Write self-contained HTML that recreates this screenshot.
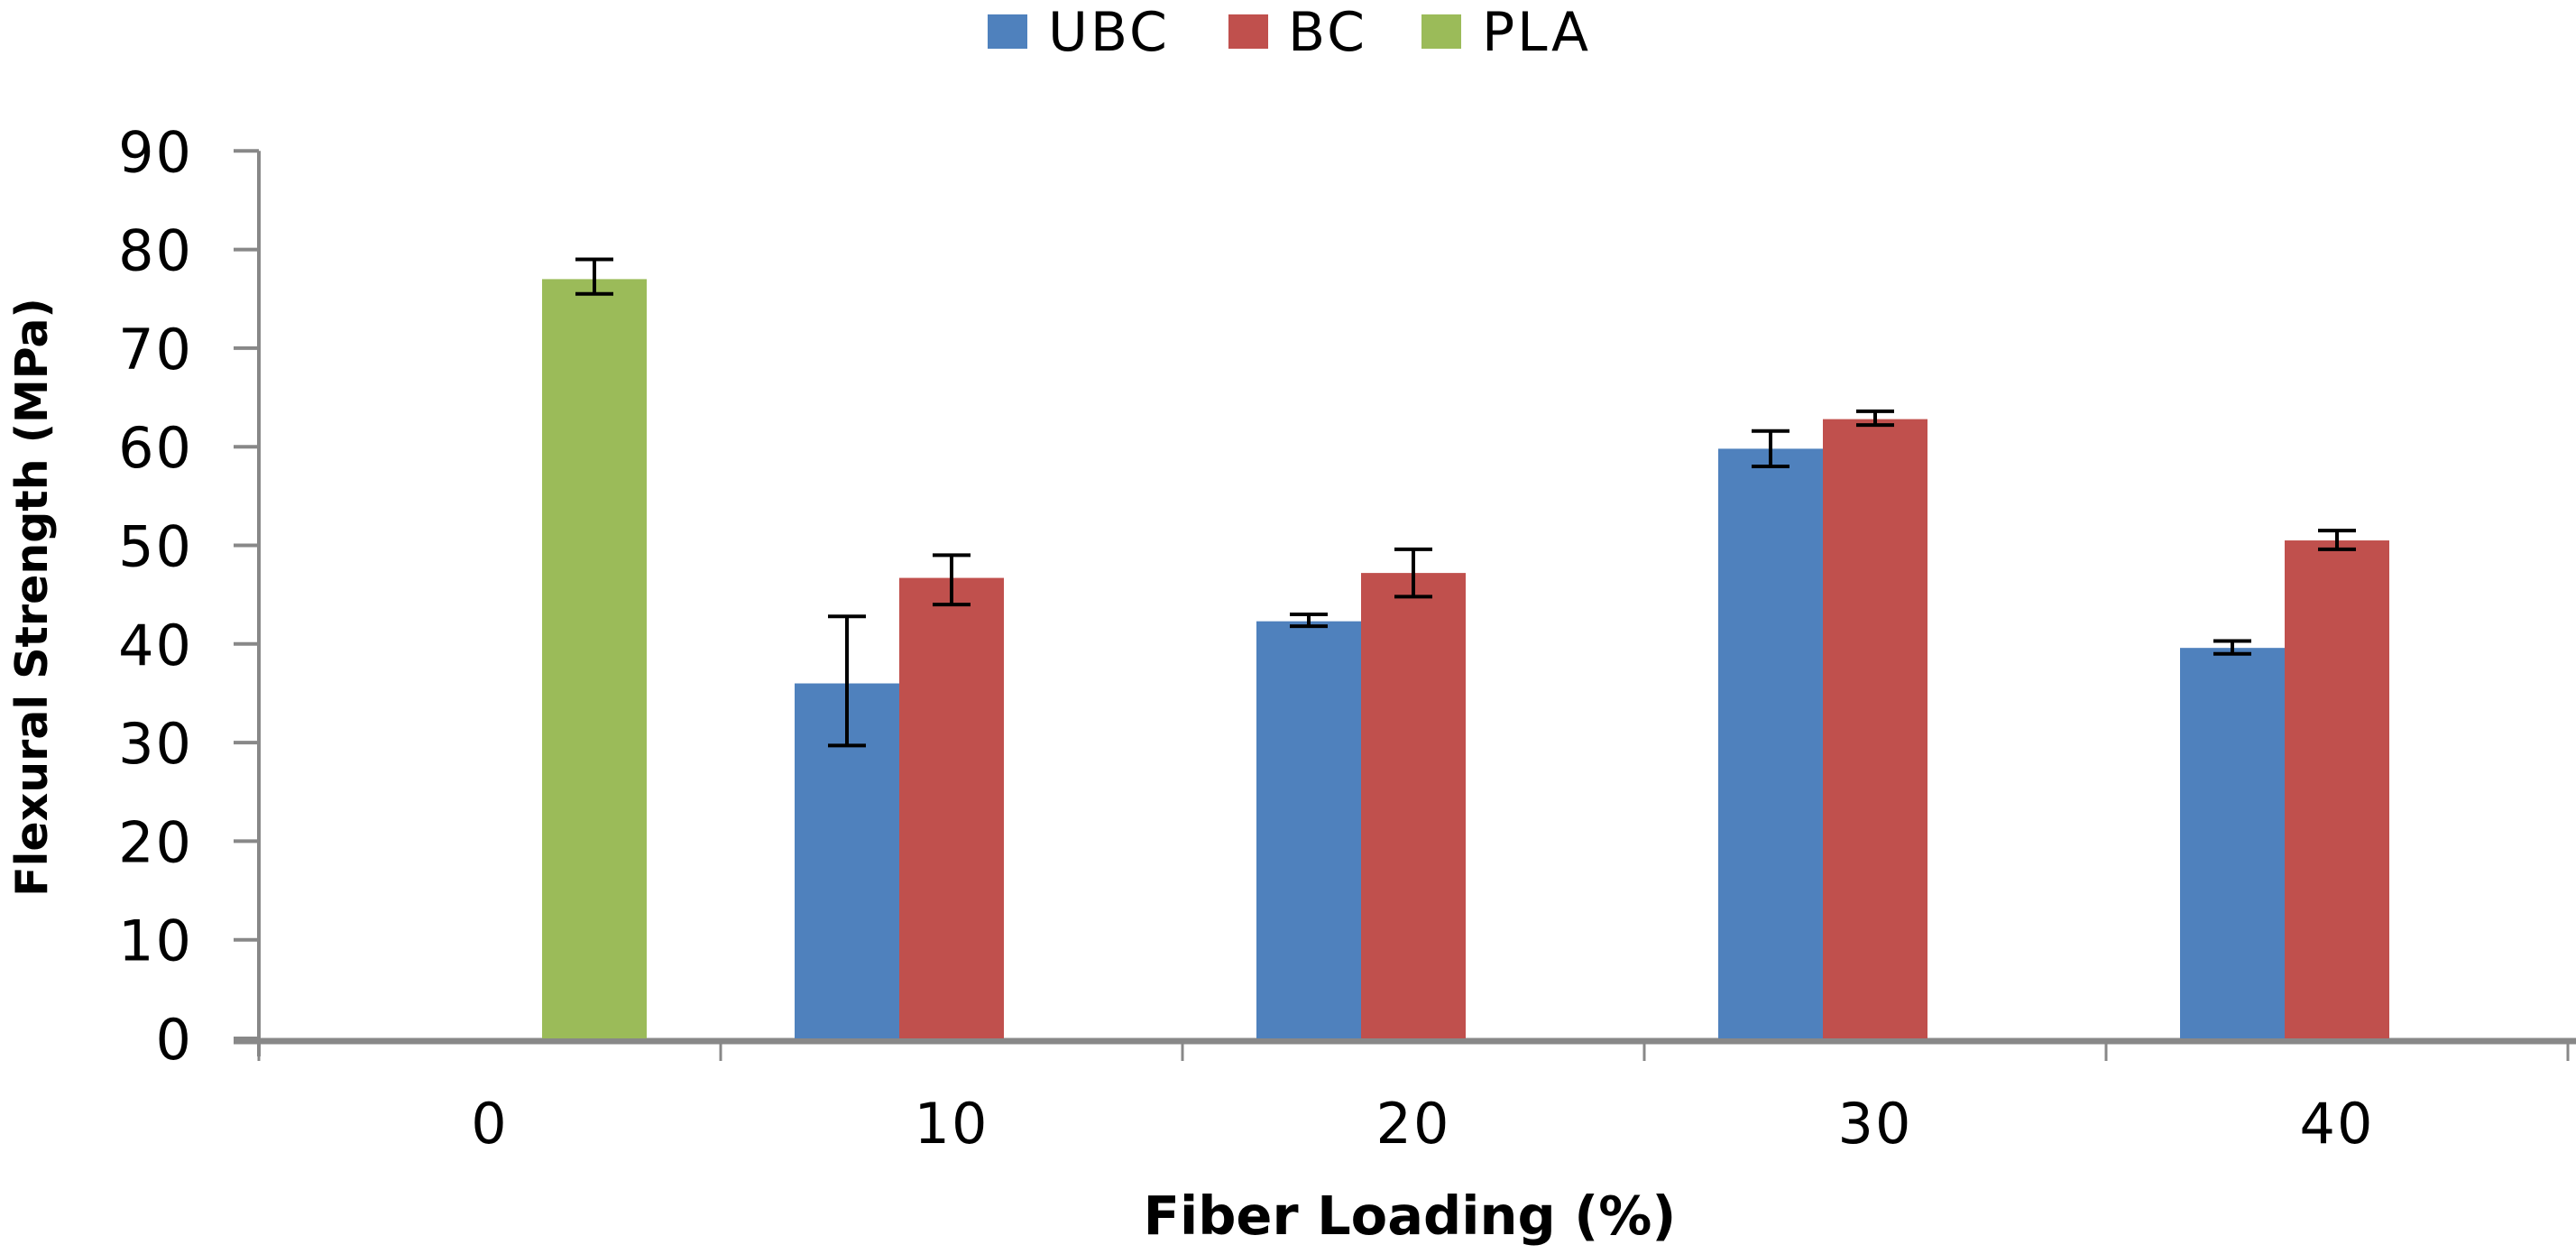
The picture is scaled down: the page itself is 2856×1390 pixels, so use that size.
<!DOCTYPE html>
<html><head><meta charset="utf-8"><style>
html,body{margin:0;padding:0;background:#fff;}
svg{display:block;}
text{font-family:"DejaVu Sans","Liberation Sans",sans-serif;fill:#000;}
</style></head><body>
<svg id="chart" width="2856" height="1390" viewBox="0 0 2856 1390">
<g id="legend">
  <rect x="1095" y="16" width="44" height="38" fill="#4f81bd"/>
  <text x="1162" y="56" font-size="60" letter-spacing="3">UBC</text>
  <rect x="1362" y="16" width="44" height="38" fill="#c0504d"/>
  <text x="1428" y="56" font-size="60" letter-spacing="3">BC</text>
  <rect x="1576" y="16" width="44" height="38" fill="#9bbb59"/>
  <text x="1643" y="56" font-size="60" letter-spacing="3">PLA</text>
</g>
<text x="52" y="662" font-size="49" font-weight="bold" text-anchor="middle" transform="rotate(-90 52 662)">Flexural Strength (MPa)</text>
<text x="1563" y="1368" font-size="59" font-weight="bold" text-anchor="middle">Fiber Loading (%)</text>
<g id="axes"></g>
<g id="bars"></g>
<g id="errs"></g>
</svg>
<script>
const categories = ["0","10","20","30","40"];
const seriesNames = ["UBC","BC","PLA"];
const ubcValues = [null,36.0,42.3,59.8,39.6];
const ubcErrLow = [null,29.7,41.8,58.0,39.0];
const ubcErrHigh = [null,42.8,43.0,61.6,40.3];
const bcValues = [null,46.7,47.2,62.8,50.5];
const bcErrLow = [null,44.0,44.8,62.2,49.6];
const bcErrHigh = [null,49.0,49.6,63.6,51.5];
const plaValues = [77.0,null,null,null,null];
const plaErrLow = [75.5,null,null,null,null];
const plaErrHigh = [79.0,null,null,null,null];
const yTicks = [0,10,20,30,40,50,60,70,80,90];

const NS="http://www.w3.org/2000/svg";
const X0=287, X1=2847, Y0=1151, PXU=10.93;
const catW=(X1-X0)/categories.length;
const barW=116, gap=(catW-3*barW)/2;
function yScale(v){return Y0 - v*PXU;}
function xBar(ci,si){return X0+ci*catW+gap+si*barW;}
function mk(tag,attrs,parent){const e=document.createElementNS(NS,tag);for(const k in attrs)e.setAttribute(k,attrs[k]);parent.appendChild(e);return e;}
const axes=document.getElementById('axes'), bars=document.getElementById('bars'), errs=document.getElementById('errs');

let l=mk('line',{x1:X0,y1:yScale(90),x2:X0,y2:Y0+20,stroke:'#888','stroke-width':4},axes);


yTicks.forEach(t=>{
  const tk=mk('line',{x1:X0-28,y1:yScale(t),x2:X0,y2:yScale(t),stroke:'#888','stroke-width':4},axes);
  
  
  const tx=mk('text',{x:214,y:yScale(t)+23,'font-size':62,'letter-spacing':2,'text-anchor':'end'},axes);
  tx.textContent=t;
  
  
});
l=mk('line',{x1:X0-28,y1:Y0+3,x2:X1+9,y2:Y0+3,stroke:'#888','stroke-width':7},axes);


for(let i=0;i<=categories.length;i++){
  const tk=mk('line',{x1:X0+i*catW,y1:Y0+6,x2:X0+i*catW,y2:Y0+25,stroke:'#888','stroke-width':3},axes);
  
  
}
categories.forEach((c,i)=>{
  const tx=mk('text',{x:X0+(i+0.5)*catW,y:1267,'font-size':62,'letter-spacing':2,'text-anchor':'middle'},axes);
  tx.textContent=c;
  
  
});
const series=[[ubcValues,ubcErrLow,ubcErrHigh,'#4f81bd','ubc'],[bcValues,bcErrLow,bcErrHigh,'#c0504d','bc'],[plaValues,plaErrLow,plaErrHigh,'#9bbb59','pla']];
series.forEach((s,si)=>{
  s[0].forEach((v,ci)=>{
    if(v==null)return;
    const x=xBar(ci,si);
    const r=mk('rect',{x:x,y:yScale(v),width:barW,height:Y0-yScale(v),fill:s[3]},bars);
    
    
    const cx=x+barW/2, lo=yScale(s[1][ci]), hi=yScale(s[2][ci]);
    const g=mk('g',{stroke:'#000','stroke-width':4},errs);
    
    
    mk('line',{x1:cx,y1:lo,x2:cx,y2:hi},g);
    mk('line',{x1:cx-21,y1:lo,x2:cx+21,y2:lo},g);
    mk('line',{x1:cx-21,y1:hi,x2:cx+21,y2:hi},g);
  });
});
</script>
</body></html>
